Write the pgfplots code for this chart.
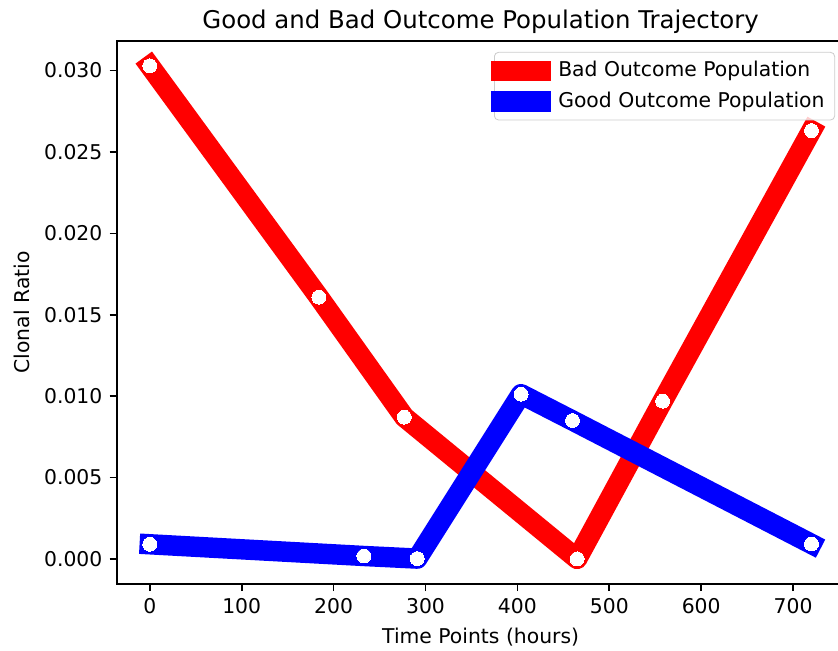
\documentclass[border=0pt]{standalone}
\usepackage{fontspec}
\setmainfont{DejaVu Sans}
\usepackage{pgfplots}
\pgfplotsset{compat=1.18}
\pgfplotstableread{
x y
0 0.03029
184 0.01608
277 0.00871
465 0.0000
558 0.00969
720 0.02631
}\bad
\pgfplotstableread{
x y
0 0.0009
233 0.00018
291 0.00002
404 0.01012
460 0.0085
720 0.00092
}\good
\begin{document}
\begin{tikzpicture}
\begin{axis}[
  scale only axis,
  width=356.5bp, height=266bp,
  xmin=-36, xmax=756,
  ymin=-0.00154, ymax=0.03182,
  xtick={0,100,200,300,400,500,600,700},
  ytick={0,0.005,0.010,0.015,0.020,0.025,0.030},
  scaled y ticks=false,
  yticklabel style={/pgf/number format/.cd, fixed, fixed zerofill, precision=3},
  /pgf/number format/assume math mode=true,
  tick align=outside,
  xtick pos=left, ytick pos=left,
  major tick length=3.5bp,
  tick style={black, line width=0.8bp},
  axis line style={line width=0.8bp},
  title={Good and Bad Outcome Population Trajectory},
  title style={font=\fontsize{12}{14}\selectfont, yshift=-6bp},
  xlabel={Time Points (hours)}, ylabel={Clonal Ratio},
  label style={font=\fontsize{10}{12}\selectfont},
  tick label style={font=\fontsize{10}{12}\selectfont},
  legend image code/.code={\draw[#1, overlay, mark=none, line cap=rect] (0bp,0bp) -- (19.6bp,0bp); \path (5.83bp,0bp) -- (19.6bp,0bp);},
  legend style={at={(1,1)}, anchor=north east, xshift=-4.65bp, yshift=-5.4bp,
    draw=black!20, fill=white, fill opacity=0.8, text opacity=1, rounded corners=2bp,
    font=\fontsize{10}{12}\selectfont, inner xsep=4bp, inner ysep=3.5bp,
    nodes={inner sep=1bp}, row sep=4bp, column sep=2.5bp},
  legend cell align=left,
]
\coordinate (SW) at (rel axis cs:0,0);
\addplot[color=red, mark=none, line width=10bp, line cap=rect, line join=round] table[x=x,y=y] {\bad};
\addlegendentry{Bad Outcome Population}
\addplot[forget plot, only marks, mark=*, mark size=3.4bp, draw=white, fill=white, line width=0pt] table[x=x,y=y] {\bad};
\addplot[color=blue, mark=none, line width=10bp, line cap=rect, line join=round] table[x=x,y=y] {\good};
\addlegendentry{Good Outcome Population}
\addplot[forget plot, only marks, mark=*, mark size=3.4bp, draw=white, fill=white, line width=0pt] table[x=x,y=y] {\good};
\end{axis}
\pgfresetboundingbox
\path[use as bounding box] ([shift={(-57.16bp,-32.33bp)}]SW) rectangle ([shift={(353.29bp,286.04bp)}]SW);
\end{tikzpicture}
\end{document}
